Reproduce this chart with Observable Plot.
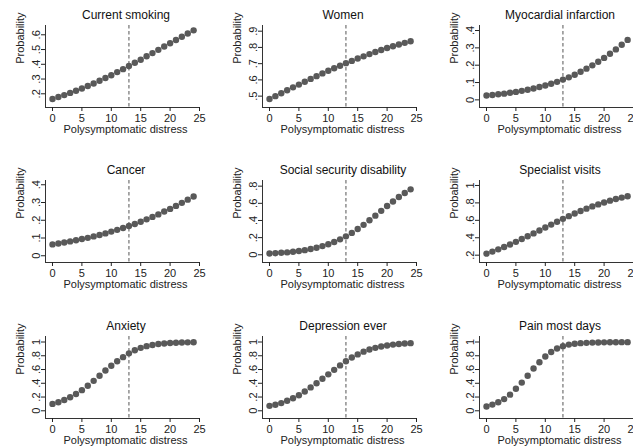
<!DOCTYPE html>
<html><head><meta charset="utf-8">
<script src="https://cdn.jsdelivr.net/npm/d3@7"></script>
<script src="https://cdn.jsdelivr.net/npm/@observablehq/plot@0.6"></script>
<style>
html,body{margin:0;padding:0;background:#fff;}
#grid{position:relative;width:633px;height:448px;overflow:hidden;}
.panel{position:absolute;width:217px;height:156px;}
.panel svg{display:block;}
</style></head><body><div id="grid"></div>
<script>
// Polysymptomatic distress score (x)
const distress = [0,1,2,3,4,5,6,7,8,9,10,11,12,13,14,15,16,17,18,19,20,21,22,23,24];
const xTicks = [0,5,10,15,20,25];
const cutoff = [13];

// Predicted probabilities
const currentSmoking = [0.165,0.178,0.191,0.206,0.221,0.236,0.253,0.270,0.288,0.307,0.326,0.347,0.367,0.388,0.410,0.431,0.454,0.476,0.498,0.521,0.543,0.565,0.587,0.609,0.630];
const women = [0.482,0.500,0.518,0.536,0.554,0.571,0.589,0.606,0.623,0.640,0.656,0.672,0.687,0.703,0.717,0.732,0.745,0.759,0.772,0.784,0.796,0.807,0.818,0.828,0.838];
const myocardial = [0.025,0.028,0.032,0.036,0.041,0.046,0.052,0.058,0.066,0.074,0.083,0.093,0.104,0.117,0.130,0.145,0.162,0.180,0.199,0.220,0.242,0.266,0.291,0.318,0.346];
const cancer = [0.064,0.069,0.075,0.081,0.087,0.094,0.101,0.109,0.117,0.126,0.136,0.146,0.156,0.168,0.179,0.192,0.205,0.219,0.233,0.249,0.264,0.281,0.298,0.316,0.334];
const disability = [0.015,0.018,0.023,0.028,0.035,0.044,0.054,0.067,0.082,0.101,0.123,0.149,0.180,0.215,0.255,0.300,0.349,0.402,0.456,0.512,0.568,0.622,0.673,0.720,0.763];
const specialist = [0.218,0.241,0.267,0.294,0.323,0.353,0.385,0.417,0.450,0.484,0.518,0.551,0.584,0.617,0.648,0.678,0.707,0.734,0.760,0.783,0.805,0.826,0.844,0.861,0.877];
const anxiety = [0.100,0.125,0.158,0.197,0.245,0.300,0.365,0.435,0.510,0.585,0.655,0.720,0.780,0.835,0.880,0.915,0.940,0.957,0.970,0.979,0.985,0.990,0.993,0.995,0.997];
const depression = [0.072,0.088,0.112,0.145,0.182,0.225,0.280,0.340,0.400,0.465,0.530,0.595,0.660,0.720,0.775,0.820,0.860,0.890,0.915,0.935,0.950,0.962,0.971,0.978,0.983];
const pain = [0.063,0.090,0.125,0.170,0.235,0.320,0.410,0.510,0.615,0.705,0.790,0.855,0.905,0.940,0.962,0.975,0.983,0.988,0.991,0.993,0.995,0.996,0.997,0.998,0.998];

const titles = ["Current smoking","Women","Myocardial infarction","Cancer","Social security disability","Specialist visits","Anxiety","Depression ever","Pain most days"];
const series = [currentSmoking, women, myocardial, cancer, disability, specialist, anxiety, depression, pain];
const yTicks = [
  [0.2,0.3,0.4,0.5,0.6],
  [0.5,0.6,0.7,0.8,0.9],
  [0,0.1,0.2,0.3,0.4],
  [0,0.1,0.2,0.3,0.4],
  [0,0.2,0.4,0.6,0.8],
  [0.2,0.4,0.6,0.8,1],
  [0,0.2,0.4,0.6,0.8,1],
  [0,0.2,0.4,0.6,0.8,1],
  [0,0.2,0.4,0.6,0.8,1]
];
// scale settings
const yDomains = [
  [0.107,0.663],[0.430,0.935],[-0.044,0.429],
  [-0.038,0.424],[-0.090,0.866],[0.116,1.057],
  [-0.112,1.080],[-0.112,1.080],[-0.112,1.080]
];
const xDomain = [-1.19, 25.17];

const fmt = d => d === 0 ? "0" : d === 1 ? "1" : String(+d.toFixed(2)).replace(/^0/, "");
const colLeft = [0, 217, 434], rowTop = [0, 155, 311];
const grid = document.getElementById("grid");

titles.forEach((title, i) => {
  const data = distress.map((x, j) => ({x, y: series[i][j]}));
  const chart = Plot.plot({
    width: 217, height: 156,
    marginLeft: 45, marginRight: 17, marginTop: 25, marginBottom: 49,
    style: {fontFamily: "'Liberation Sans', Arial, Helvetica, sans-serif", fontSize: "11px", background: "transparent", color: "#222"},
    x: {domain: xDomain},
    y: {domain: yDomains[i]},
    marks: [
      Plot.ruleX(cutoff, {stroke: "#555", strokeWidth: 1, strokeDasharray: "3.5,2.5"}),
      Plot.ruleY([yDomains[i][0]], {stroke: "#333"}),
      Plot.ruleX([xDomain[0]], {stroke: "#333"}),
      Plot.axisX({ticks: xTicks, tickSize: 4, tickPadding: 3, label: null, fontSize: 11, color: "#222"}),
      Plot.axisY({ticks: yTicks[i], tickFormat: fmt, tickRotate: -90, tickSize: 4, tickPadding: 2, label: null, fontSize: 11, color: "#222"}),
      Plot.dot(data, {x: "x", y: "y", r: 3.2, fill: "#595959", stroke: "none"}),
      Plot.text([title], {frameAnchor: "top", lineAnchor: "top", dy: -15, dx: 3, fontSize: 12, fill: "#111"}),
      Plot.text(["Polysymptomatic distress"], {frameAnchor: "bottom", lineAnchor: "top", dy: 17.5, dx: 2.5, fontSize: 11, fill: "#222"}),
      Plot.text(["Probability"], {frameAnchor: "left", rotate: -90, dx: -25.5, dy: -2.7, fontSize: 11, fill: "#222"})
    ]
  });
  const div = document.createElement("div");
  div.className = "panel";
  div.style.left = colLeft[i % 3] + "px";
  div.style.top = rowTop[Math.floor(i / 3)] + "px";
  div.appendChild(chart);
  grid.appendChild(div);
});
</script></body></html>
